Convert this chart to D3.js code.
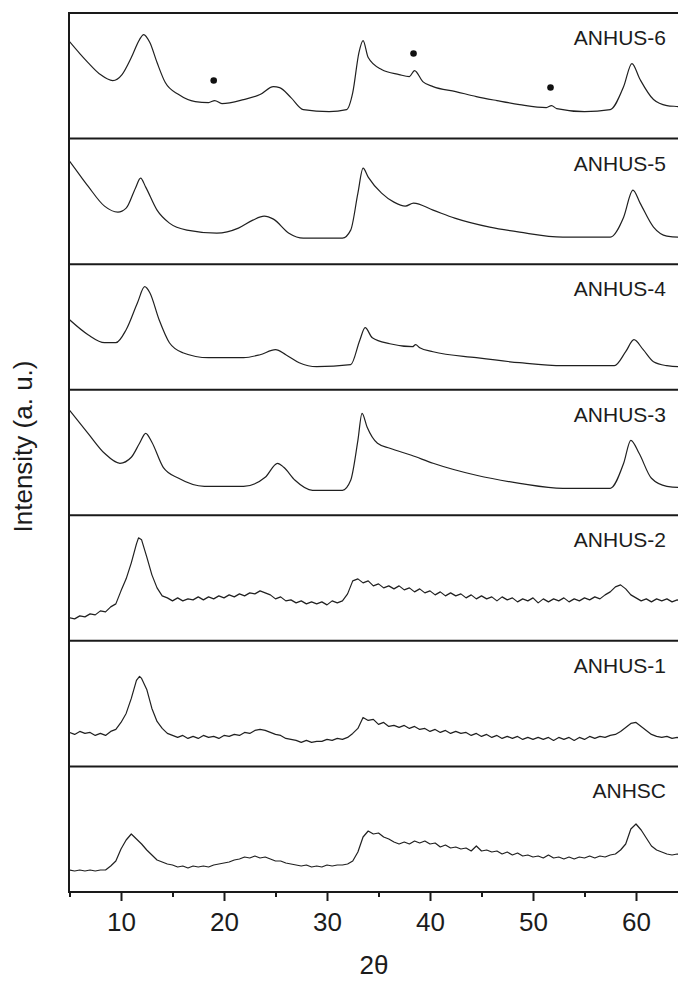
<!DOCTYPE html>
<html><head><meta charset="utf-8">
<script src="https://cdn.jsdelivr.net/npm/d3@7"></script>
<style>
body{margin:0;background:#fff}
svg{display:block}
text{font-family:"Liberation Sans",Arial,sans-serif;fill:#1c1c1c}
</style>
</head><body>
<svg id="chart" width="678" height="990"></svg>
<script>
// ---------- data (intensity in arbitrary units per panel) ----------
const sampleNames = ["ANHUS-6","ANHUS-5","ANHUS-4","ANHUS-3","ANHUS-2","ANHUS-1","ANHSC"];
const xMajorTicks = [10,20,30,40,50,60];
const xMinorTicks = [5,15,25,35,45,55,65];
const xTitle = "2θ";
const yTitle = "Intensity (a. u.)";

const anhus6 = [[5,97],[6,85],[6.8,76],[8,64],[9.2,58],[10.1,64],[11,81],[11.8,99],[12.2,104],[12.8,96],[13.5,76],[14.3,56],[15.6,44],[17.2,37],[18.5,36],[19.1,38],[19.8,35],[21.9,39],[23.5,44],[24.8,52],[25.4,51],[26.5,41],[27.7,29],[30.2,27],[31.9,29],[32.5,46],[33.1,86],[33.5,98],[34,81],[35.3,69],[37,64],[38,62],[38.5,68],[39.3,57],[40.3,52],[42.5,47],[44.5,42],[46.5,38],[48.7,34],[51.3,31],[51.8,33],[52.3,30],[55,27],[57.5,29],[58.8,52],[59.6,75],[60.4,59],[61.7,39],[63,33],[64.1,32],[65,31]];
const anhus5 = [[5,103],[6,89],[6.8,78],[8.4,58],[9.7,52],[10.5,56],[11.4,76],[11.9,86],[12.4,77],[13.5,54],[14.7,41],[16.4,34],[19.3,31],[21.4,36],[22.8,44],[23.9,48],[24.8,45],[26.3,31],[27.7,26],[31.5,26],[32.3,34],[33,71],[33.5,96],[34,87],[35.3,71],[36.5,62],[37.6,58],[38.4,61],[40.3,54],[42.4,46],[45.8,37],[48.7,32],[52.9,27],[57.5,27],[58.8,47],[59.7,74],[60.4,61],[61.7,37],[63,28],[64.1,27],[65,27]];
const anhus4 = [[5,70],[6.8,55],[8.4,47],[9.5,47],[10.5,60],[11.6,87],[12.3,103],[12.8,97],[13.7,70],[14.7,47],[16,37],[18.5,32],[21.9,32],[23.5,35],[25,40],[26,35],[27.3,27],[29,23],[32.3,25],[33.2,50],[33.7,62],[34.4,52],[36.1,46],[38.3,43],[38.6,45],[39,42],[40.3,38],[44.5,32],[48.7,27],[52.9,24],[57.9,24],[59,38],[59.8,50],[60.7,40],[61.7,28],[63,24],[64.1,23],[65,23]];
const anhus3 = [[5,105],[6.8,82],[8.4,62],[9.9,52],[11,58],[11.8,72],[12.4,82],[13,73],[14.1,48],[15.6,37],[18.1,29],[21.9,29],[24,38],[25.2,52],[25.8,48],[26.9,35],[28.6,25],[31.5,25],[32.3,35],[33,75],[33.4,102],[33.9,88],[34.9,72],[36.1,67],[38.2,60],[40.3,52],[44.5,40],[48.7,32],[52.9,27],[57.5,27],[58.8,52],[59.5,75],[60.3,62],[61.5,37],[63,29],[64.1,28],[65,28]];
const anhus2 = [[5,23],[5.5,22],[6,25],[6.5,24],[7,27],[7.5,26],[8,30],[8.5,29],[9,34],[9.5,37],[10,50],[10.5,62],[11,78],[11.5,97],[11.7,103],[12,101],[12.5,84],[13,66],[13.5,53],[14,45],[14.5,43],[15,40],[15.5,43],[16,40],[16.5,42],[17,41],[17.5,44],[18,41],[18.5,44],[19,42],[19.5,45],[20,43],[20.5,46],[21,44],[21.5,47],[22,45],[22.5,48],[23,47],[23.5,50],[24,48],[24.5,46],[25,42],[25.5,44],[26,40],[26.5,41],[27,38],[27.5,40],[28,37],[28.5,39],[29,37],[29.5,39],[30,36],[30.5,40],[31,38],[31.5,40],[32,47],[32.5,60],[33,62],[33.5,58],[34,60],[34.5,55],[35,57],[35.5,53],[36,55],[36.5,52],[37,55],[37.5,51],[38,53],[38.5,49],[39,52],[39.5,48],[40,50],[40.5,46],[41,49],[41.5,45],[42,48],[42.5,45],[43,47],[43.5,43],[44,46],[44.5,42],[45,45],[45.5,42],[46,44],[46.5,40],[47,44],[47.5,41],[48,43],[48.5,39],[49,42],[49.5,40],[50,43],[50.5,38],[51,42],[51.5,39],[52,42],[52.5,40],[53,43],[53.5,39],[54,42],[54.5,40],[55,43],[55.5,41],[56,44],[56.5,42],[57,46],[57.5,49],[58,54],[58.5,56],[59,52],[59.5,46],[60,43],[60.5,40],[61,42],[61.5,39],[62,42],[62.5,40],[63,42],[63.5,39],[64,41],[64.5,39],[65,41]];
const anhus1 = [[5,34],[5.5,32],[6,35],[6.5,33],[7,34],[7.5,31],[8,33],[8.5,31],[9,35],[9.5,37],[10,44],[10.5,53],[11,68],[11.5,86],[11.8,90],[12,88],[12.5,77],[13,58],[13.5,45],[14,38],[14.5,33],[15,31],[15.5,29],[16,31],[16.5,28],[17,30],[17.5,28],[18,31],[18.5,29],[19,30],[19.5,28],[20,31],[20.5,30],[21,32],[21.5,31],[22,34],[22.5,33],[23,36],[23.5,37],[24,36],[24.5,34],[25,32],[25.5,31],[26,28],[26.5,27],[27,26],[27.5,24],[28,26],[28.5,24],[29,25],[29.5,25],[30,27],[30.5,26],[31,28],[31.5,27],[32,29],[32.5,33],[33,38],[33.5,49],[34,46],[34.5,47],[35,42],[35.5,44],[36,40],[36.5,41],[37,39],[37.5,41],[38,38],[38.5,40],[39,37],[39.5,38],[40,35],[40.5,37],[41,34],[41.5,36],[42,33],[42.5,35],[43,33],[43.5,34],[44,31],[44.5,33],[45,30],[45.5,32],[46,29],[46.5,31],[47,28],[47.5,30],[48,28],[48.5,30],[49,27],[49.5,29],[50,27],[50.5,29],[51,27],[51.5,29],[52,26],[52.5,29],[53,27],[53.5,29],[54,26],[54.5,29],[55,27],[55.5,30],[56,28],[56.5,30],[57,29],[57.5,31],[58,32],[58.5,35],[59,39],[59.5,43],[60,44],[60.5,40],[61,36],[61.5,32],[62,30],[62.5,29],[63,30],[63.5,28],[64,29],[64.5,28],[65,29]];
const anhsc = [[5,22],[5.5,21],[6,22],[6.5,21],[7,22],[7.5,21],[8,22],[8.5,22],[9,26],[9.5,31],[10,43],[10.5,52],[11,58],[11.5,53],[12,48],[12.5,42],[13,37],[13.5,32],[14,30],[14.5,28],[15,27],[15.5,25],[16,26],[16.5,24],[17,26],[17.5,25],[18,26],[18.5,25],[19,27],[19.5,28],[20,29],[20.5,30],[21,32],[21.5,33],[22,35],[22.5,34],[23,36],[23.5,34],[24,35],[24.5,33],[25,31],[25.5,31],[26,29],[26.5,28],[27,27],[27.5,26],[28,27],[28.5,25],[29,26],[29.5,25],[30,27],[30.5,26],[31,27],[31.5,27],[32,28],[32.5,31],[33,40],[33.5,55],[34,61],[34.5,58],[35,59],[35.5,55],[36,53],[36.5,50],[37,48],[37.5,50],[38,48],[38.5,51],[39,49],[39.5,51],[40,48],[40.5,49],[41,45],[41.5,47],[42,44],[42.5,45],[43,43],[43.5,44],[44,41],[44.5,46],[45,41],[45.5,42],[46,40],[46.5,41],[47,38],[47.5,40],[48,37],[48.5,39],[49,36],[49.5,37],[50,35],[50.5,36],[51,34],[51.5,37],[52,34],[52.5,35],[53,33],[53.5,35],[54,33],[54.5,35],[55,34],[55.5,36],[56,34],[56.5,36],[57,35],[57.5,37],[58,38],[58.5,42],[59,48],[59.5,63],[60,68],[60.5,62],[61,54],[61.5,46],[62,42],[62.5,40],[63,38],[63.5,37],[64,38],[64.5,37],[65,36]];
const markedPeaks = [[19,58],[38.4,85],[51.7,51]]; // dots above impurity reflections in ANHUS-6

const seriesList = [anhus6, anhus5, anhus4, anhus3, anhus2, anhus1, anhsc];
const noisySeries = [false,false,false,false,true,true,true];

// ---------- layout ----------
const svg = d3.select("#chart");
const frameLeft = 69, frameTop = 13, frameBottom = 892, frameRight = 690;
const nPanels = sampleNames.length;
const panelH = (frameBottom - frameTop) / nPanels;

const x = d3.scaleLinear().domain([5,65]).range([69.5, 687.5]);
const yFor = i => d3.scaleLinear().domain([0, panelH]).range([frameTop + (i+1)*panelH, frameTop + i*panelH]);

const defs = svg.append("defs");
defs.append("clipPath").attr("id","plotclip").append("rect")
  .attr("x", frameLeft+1).attr("y", frameTop+1)
  .attr("width", frameRight-frameLeft-2).attr("height", frameBottom-frameTop-2);

const plot = svg.append("g").attr("clip-path","url(#plotclip)");

seriesList.forEach((data, i) => {
  const y = yFor(i);
  const line = d3.line()
    .x(d => x(d[0])).y(d => y(d[1]))
    .curve(noisySeries[i] ? d3.curveLinear : d3.curveMonotoneX);
  plot.append("path").datum(data)
    .attr("d", line)
    .attr("fill","none")
    .attr("stroke","#202020")
    .attr("stroke-width", noisySeries[i] ? 1.2 : 1.2)
    .attr("stroke-linejoin","round");
  svg.append("text")
    .attr("x", 666).attr("y", frameTop + i*panelH + 32)
    .attr("text-anchor","end")
    .attr("font-size", 21)
    .text(sampleNames[i]);
});

// dots in top panel
const y0 = yFor(0);
svg.append("g").selectAll("circle").data(markedPeaks).join("circle")
  .attr("cx", d => x(d[0])).attr("cy", d => y0(d[1]))
  .attr("r", 3.3).attr("fill","#111");

// frame and separators
svg.append("rect")
  .attr("x", frameLeft).attr("y", frameTop)
  .attr("width", frameRight-frameLeft).attr("height", frameBottom-frameTop)
  .attr("fill","none").attr("stroke","#1a1a1a").attr("stroke-width",2);
svg.append("g").selectAll("line").data(d3.range(1, nPanels)).join("line")
  .attr("x1", frameLeft).attr("x2", frameRight)
  .attr("y1", i => frameTop + i*panelH).attr("y2", i => frameTop + i*panelH)
  .attr("stroke","#1a1a1a").attr("stroke-width",2);

// x axis: major ticks with labels, minor ticks without
const axMajor = svg.append("g").attr("transform",`translate(0,${frameBottom})`)
  .call(d3.axisBottom(x).tickValues(xMajorTicks).tickSize(9).tickPadding(12).tickFormat(d3.format("d")));
axMajor.select(".domain").remove();
axMajor.selectAll("line").attr("stroke","#1a1a1a").attr("stroke-width",2);
axMajor.selectAll("text").attr("font-size",26).attr("fill","#1c1c1c")
  .attr("font-family",'"Liberation Sans",Arial,sans-serif');

const axMinor = svg.append("g").attr("transform",`translate(0,${frameBottom})`)
  .call(d3.axisBottom(x).tickValues(xMinorTicks).tickSize(5).tickFormat(""));
axMinor.select(".domain").remove();
axMinor.selectAll("line").attr("stroke","#1a1a1a").attr("stroke-width",2);

// titles
svg.append("text").attr("x", 374).attr("y", 974)
  .attr("text-anchor","middle").attr("font-size",26).text(xTitle);
svg.append("text")
  .attr("transform", `translate(32, ${(frameTop+frameBottom)/2 - 6}) rotate(-90)`)
  .attr("text-anchor","middle").attr("font-size",26).text(yTitle);
</script>
</body></html>
